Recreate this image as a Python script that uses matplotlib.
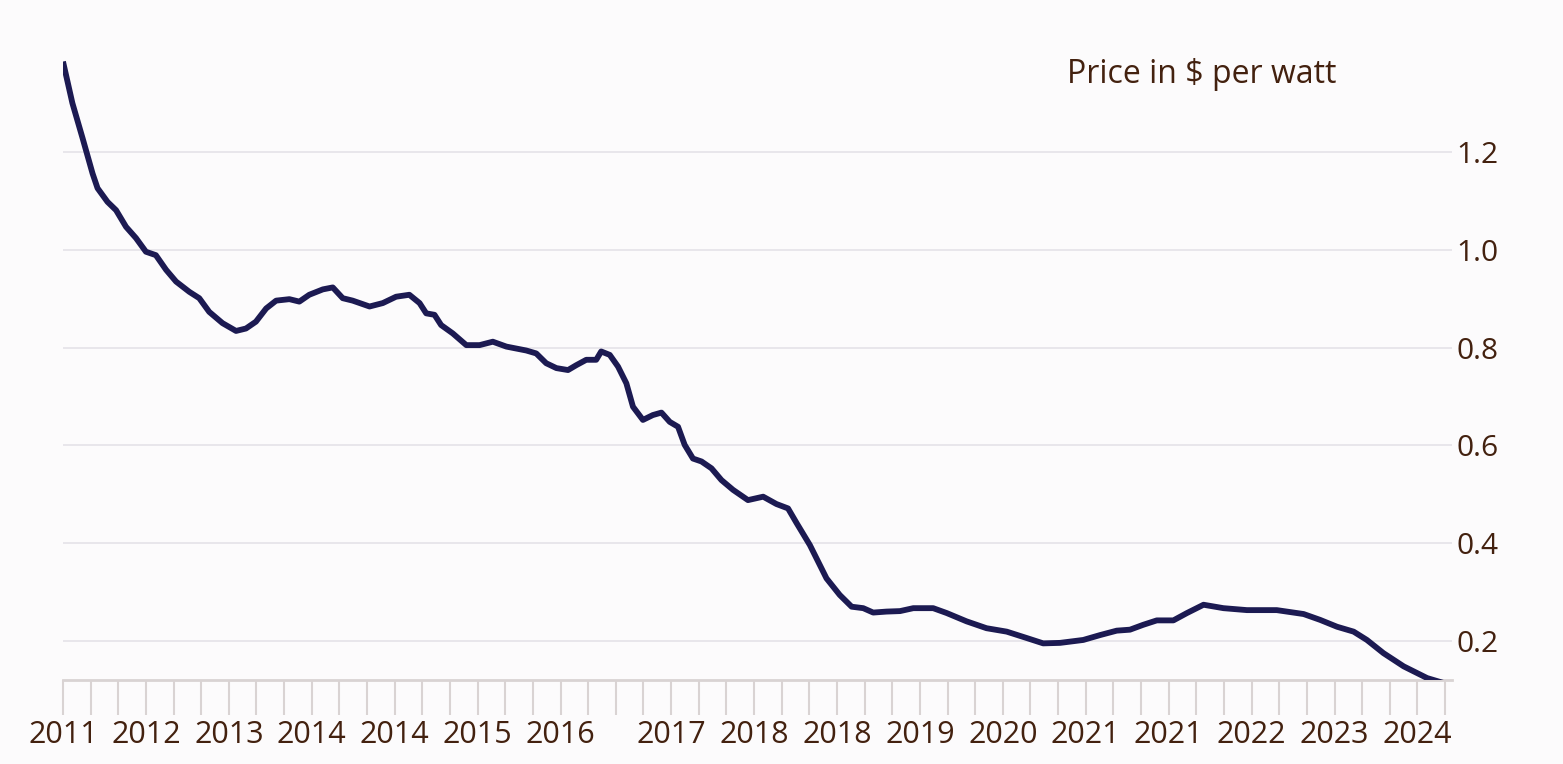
import matplotlib.pyplot as plt

# x positions are in "tick periods" (one small tick per period), y is $ per watt
period = [0.0, 0.34, 0.71, 1.07, 1.25, 1.61, 1.92, 2.28, 2.64, 3.00, 3.36, 3.73,
          4.09, 4.57, 4.93, 5.29, 5.77, 6.26, 6.62, 6.98, 7.35, 7.71, 8.19, 8.55,
          8.91, 9.40, 9.76, 10.12, 10.48, 11.09, 11.57, 12.05, 12.53, 12.90, 13.14,
          13.44, 13.68, 14.10, 14.59, 15.07, 15.55, 16.04, 16.76, 17.12, 17.48,
          17.85, 18.27, 18.57, 18.93, 19.29, 19.47, 19.78, 20.08, 20.38, 20.62,
          20.98, 21.34, 21.65, 21.95, 22.25, 22.49, 22.79, 23.10, 23.46, 23.82,
          24.24, 24.78, 25.33, 25.81, 26.23, 26.54, 27.02, 27.62, 28.10, 28.53,
          28.95, 29.31, 29.79, 30.28, 30.76, 31.48, 31.97, 32.69, 33.41, 34.14,
          34.86, 35.46, 36.07, 36.91, 37.52, 38.12, 38.60, 39.08, 39.57, 40.17,
          40.66, 41.26, 41.98, 42.83, 43.91, 44.88, 45.48, 46.09, 46.69, 47.17,
          47.77, 48.50, 49.35, 50.0]
price = [1.385, 1.300, 1.228, 1.156, 1.126, 1.098, 1.081, 1.047, 1.024, 0.996, 0.989, 0.959,
         0.935, 0.914, 0.901, 0.873, 0.850, 0.834, 0.839, 0.853, 0.880, 0.896, 0.899, 0.894,
         0.908, 0.919, 0.923, 0.901, 0.896, 0.884, 0.891, 0.904, 0.908, 0.891, 0.870,
         0.867, 0.846, 0.829, 0.805, 0.805, 0.812, 0.802, 0.794, 0.788, 0.768,
         0.758, 0.754, 0.764, 0.775, 0.775, 0.792, 0.785, 0.761, 0.727, 0.679,
         0.652, 0.662, 0.667, 0.648, 0.638, 0.601, 0.573, 0.567, 0.553, 0.529,
         0.509, 0.488, 0.495, 0.480, 0.471, 0.441, 0.396, 0.328, 0.294, 0.270,
         0.267, 0.258, 0.260, 0.261, 0.267, 0.267, 0.257, 0.240, 0.226, 0.219,
         0.206, 0.195, 0.196, 0.202, 0.212, 0.221, 0.223, 0.233, 0.242, 0.242,
         0.257, 0.274, 0.267, 0.263, 0.263, 0.255, 0.243, 0.229, 0.219, 0.202,
         0.175, 0.148, 0.124, 0.113]

n_ticks = 51
label_ticks = [0, 3, 6, 9, 12, 15, 18, 22, 25, 28, 31, 34, 37, 40, 43, 46, 49]
year_labels = ["2011", "2012", "2013", "2014", "2014", "2015", "2016", "2017", "2018",
               "2018", "2019", "2020", "2021", "2021", "2022", "2023", "2024"]
y_ticks = [0.2, 0.4, 0.6, 0.8, 1.0, 1.2]

bg = "#fcfbfc"
text_color = "#43210f"
line_color = "#1c1a52"
grid_color = "#e6e4ea"
tick_color = "#d9d3d3"

plt.rcParams['font.family'] = ['Open Sans', 'DejaVu Sans']

fig = plt.figure(figsize=(15.63, 7.64), dpi=100, facecolor=bg)
ax = fig.add_axes([0.0403, 0.1099, 0.8887, 0.8377])
ax.set_facecolor(bg)

ax.plot(period, price, color=line_color, linewidth=4.2, solid_joinstyle="round",
        solid_capstyle="butt", zorder=3)

ax.set_xlim(0, 50.25)
ax.set_ylim(0.12, 1.429)

# y axis on the right, no tick marks, light grid
ax.yaxis.tick_right()
ax.set_yticks(y_ticks)
ax.set_yticklabels([f"{v:.1f}" for v in y_ticks])
ax.tick_params(axis="y", length=0, pad=3, labelsize=21.5, labelcolor=text_color)
ax.grid(axis="y", color=grid_color, linewidth=1.3)
ax.set_axisbelow(True)

# x axis: small tick every period, year labels on some of them
ax.set_xticks(label_ticks)
ax.set_xticklabels(year_labels)
ax.set_xticks([i for i in range(n_ticks) if i not in label_ticks], minor=True)
ax.tick_params(axis="x", which="both", length=25, width=1.5, color=tick_color,
               pad=4, labelsize=22, labelcolor=text_color)

for side in ["top", "left", "right"]:
    ax.spines[side].set_visible(False)
ax.spines["bottom"].set_color(tick_color)
ax.spines["bottom"].set_linewidth(2)

fig.text(0.855, 0.903, "Price in $ per watt", ha="right", va="center",
         fontsize=23, color=text_color)

fig.savefig("out.png", dpi=100, facecolor=bg)
